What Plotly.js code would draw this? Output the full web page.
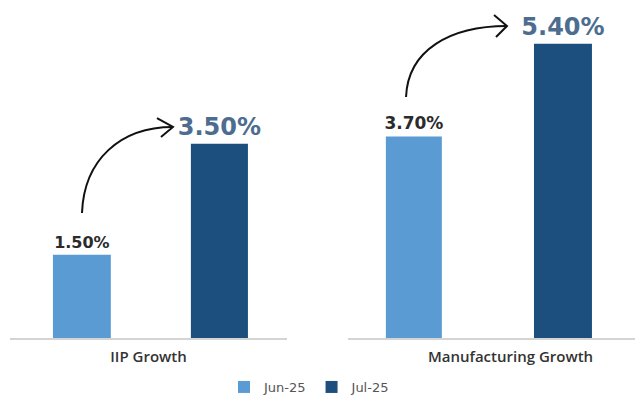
<!DOCTYPE html>
<html>
<head>
<meta charset="utf-8">
<script src="https://cdn.plot.ly/plotly-3.0.1.min.js"></script>
<style>html,body{margin:0;padding:0;background:#fff;}#chart{width:635px;height:396px;}</style>
</head>
<body>
<div id="chart"></div>
<script>
// ---- data ----
const categories = ['IIP Growth', 'Manufacturing Growth'];
const seriesNames = ['Jun-25', 'Jul-25'];
const junValues = [1.50, 3.70];
const julValues = [3.50, 5.40];

// ---- styles ----
const lightBlue = '#5b9bd3';
const darkBlue = '#1c4e7e';
const W = 635, H = 396, mT = 10, mB = 58;
const plotH = H - mT - mB;
// pixel -> paper helper for decorative arrows
function P(px, py) { return (px / W).toFixed(4) + ',' + ((H - mB - py) / plotH).toFixed(4); }

const smallFont = {family: 'DejaVu Sans', size: 16, color: '#2b2b2b', weight: 'bold'};
const bigFont = {family: 'DejaVu Sans', size: 24, color: '#4d6d90', weight: 'bold'};

const panels = [
  {xa: 'x', ya: 'y', offs: [-0.345, 0.153], wids: [0.209, 0.206], jf: 16},
  {xa: 'x2', ya: 'y2', offs: [-0.368, 0.148], wids: [0.195, 0.202], jf: 17}
];

const traces = [];
panels.forEach((p, i) => {
  traces.push({
    type: 'bar', name: seriesNames[0], legendgroup: 'jun', showlegend: i === 0,
    x: [categories[i]], y: [junValues[i]], xaxis: p.xa, yaxis: p.ya,
    offset: p.offs[0], width: p.wids[0],
    marker: {color: lightBlue},
    texttemplate: '%{y:.2f}%', textposition: 'outside', cliponaxis: false, constraintext: 'none',
    textfont: Object.assign({}, smallFont, {size: p.jf}),
    hoverinfo: 'skip'
  });
  traces.push({
    type: 'bar', name: seriesNames[1], legendgroup: 'jul', showlegend: i === 0,
    x: [categories[i]], y: [julValues[i]], xaxis: p.xa, yaxis: p.ya,
    offset: p.offs[1], width: p.wids[1],
    marker: {color: darkBlue},
    texttemplate: '%{y:.2f}%', textposition: 'outside', cliponaxis: false, constraintext: 'none',
    textfont: bigFont,
    hoverinfo: 'skip'
  });
});

const xCommon = {
  type: 'category', range: [-0.5, 0.5], showgrid: false, zeroline: false,
  showline: true, linecolor: '#d4d4d4', linewidth: 2, ticks: '',
  tickfont: {family: 'Open Sans', size: 15, color: '#333', weight: 600},
  ticklabelstandoff: 4, automargin: false,
  fixedrange: true
};
const yCommon = {showgrid: false, zeroline: false, showticklabels: false, showline: false, fixedrange: true, automargin: false};

const arrowStyle = {color: '#111', width: 2};
const shapes = [
  {type: 'path', xref: 'paper', yref: 'paper', line: arrowStyle,
   path: 'M ' + P(82, 213) + ' C ' + P(84, 160) + ' ' + P(120, 127) + ' ' + P(173, 127)},
  {type: 'path', xref: 'paper', yref: 'paper', line: arrowStyle,
   path: 'M ' + P(157, 118) + ' L ' + P(173, 127) + ' L ' + P(161, 137)},
  {type: 'path', xref: 'paper', yref: 'paper', line: arrowStyle,
   path: 'M ' + P(406, 97) + ' C ' + P(408, 50) + ' ' + P(450, 26) + ' ' + P(507, 26)},
  {type: 'path', xref: 'paper', yref: 'paper', line: arrowStyle,
   path: 'M ' + P(494, 15) + ' L ' + P(507, 26) + ' L ' + P(496, 37)}
];

const layout = {
  width: W, height: H,
  margin: {l: 0, r: 0, t: mT, b: mB, autoexpand: false},
  paper_bgcolor: '#ffffff', plot_bgcolor: 'rgba(0,0,0,0)',
  barmode: 'overlay',
  showlegend: true,
  legend: {orientation: 'h', x: 224 / W, xanchor: 'left', y: (338 - 387) / plotH, yanchor: 'middle',
           font: {family: 'DejaVu Sans', size: 13, color: '#555'}, itemwidth: 30, traceorder: 'normal'},
  xaxis: Object.assign({}, xCommon, {domain: [10 / W, 287 / W], anchor: 'y'}),
  xaxis2: Object.assign({}, xCommon, {domain: [348 / W, 1], anchor: 'y2', ticklabelshift: 19}),
  yaxis: Object.assign({}, yCommon, {range: [0, 5.91], anchor: 'x'}),
  yaxis2: Object.assign({}, yCommon, {range: [0, 6.02], anchor: 'x2'}),
  shapes: shapes
};

Plotly.newPlot('chart', traces, layout, {displayModeBar: false, staticPlot: true});
</script>
</body>
</html>
